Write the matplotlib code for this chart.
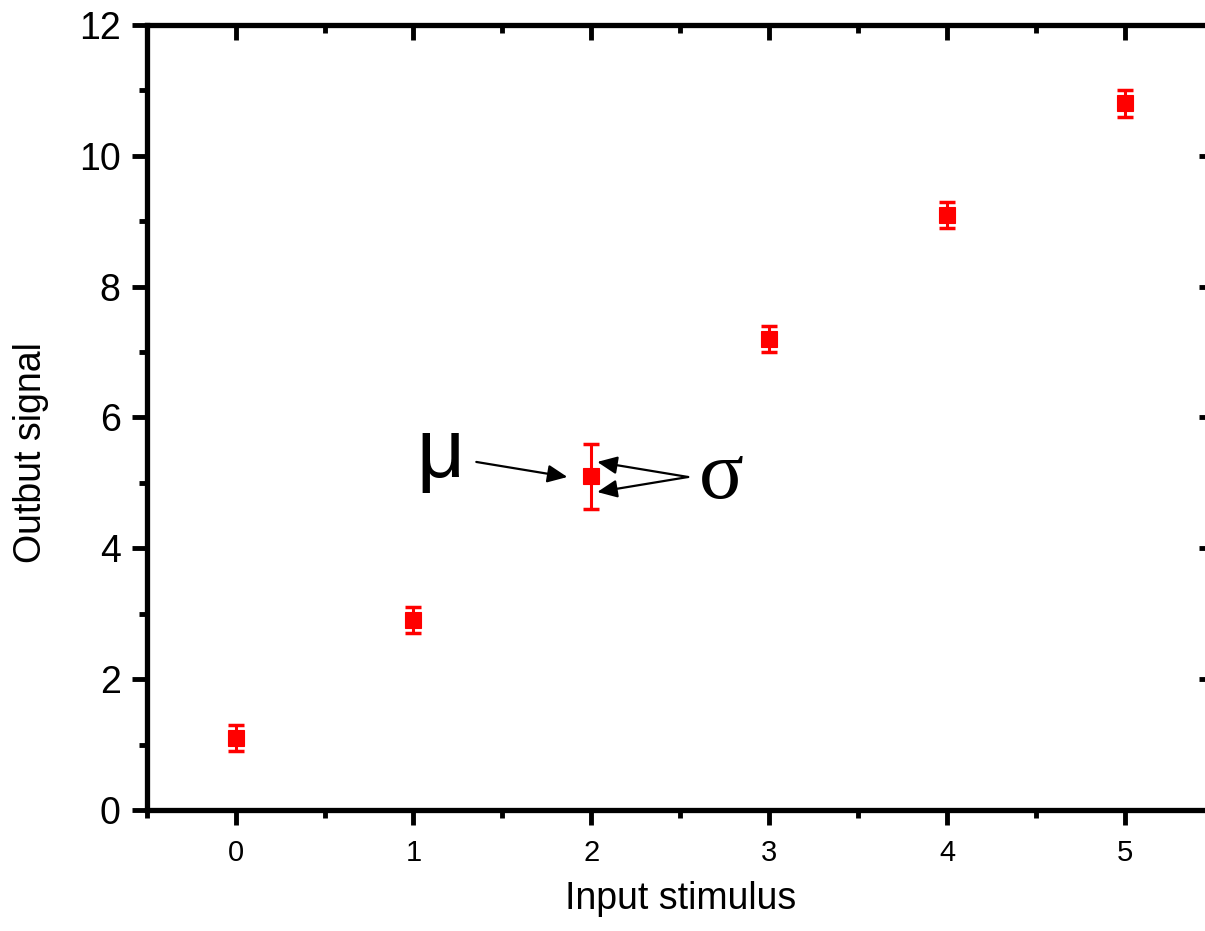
import matplotlib
matplotlib.use("Agg")
import matplotlib.pyplot as plt
from matplotlib.ticker import MultipleLocator

# Data
stimulus = [0, 1, 2, 3, 4, 5]
signal = [1.1, 2.9, 5.1, 7.2, 9.1, 10.8]
sigma = [0.2, 0.2, 0.5, 0.2, 0.2, 0.2]
x_ticks = [0, 1, 2, 3, 4, 5]
y_ticks = [0, 2, 4, 6, 8, 10, 12]

plt.rcParams['font.family'] = ['Liberation Sans', 'DejaVu Sans']

fig = plt.figure(figsize=(12.05, 9.31), dpi=100)
ax = fig.add_axes([0.1217, 0.13, 0.8858, 0.8432])

line, caps, bars = ax.errorbar(stimulus, signal, yerr=sigma, fmt='s', color='#ff0000',
                               markersize=11, elinewidth=2.2, capsize=5.8, capthick=2.5,
                               markeredgewidth=0.8, zorder=3)
for c in caps:
    c.set_markeredgewidth(2.5)
    c.set_markersize(11.6)

ax.set_xlim(-0.5, 5.5)
ax.set_ylim(0, 12)
ax.set_xticks(x_ticks)
ax.set_yticks(y_ticks)
ax.xaxis.set_minor_locator(MultipleLocator(0.5))
ax.yaxis.set_minor_locator(MultipleLocator(1))

for s in ax.spines.values():
    s.set_linewidth(3.8)

ax.tick_params(axis='both', which='major', length=10.8, width=3.5, direction='out')
ax.tick_params(axis='both', which='minor', length=5.8, width=3.5, direction='out')
ax.tick_params(axis='x', which='major', labelsize=21, pad=10)
ax.tick_params(axis='y', which='major', labelsize=27, pad=8)
ax.tick_params(which='both', top=True, right=True)
for t in ax.xaxis.get_major_ticks() + ax.xaxis.get_minor_ticks():
    t.tick2line.set_marker(3)  # tick pointing down from top spine
for t in ax.yaxis.get_major_ticks() + ax.yaxis.get_minor_ticks():
    t.tick2line.set_marker(0)  # tick pointing left from right spine

ax.set_xlabel('Input stimulus', fontsize=27, labelpad=10)
fig.text(0.026, 0.514, 'Outbut signal', rotation=90, fontsize=27,
         ha='center', va='center')

arrow_kw = dict(arrowstyle='-|>,head_length=0.6,head_width=0.27',
                color='black', lw=1.6, mutation_scale=20,
                shrinkA=0, shrinkB=0)
ax.annotate('', xy=(1.865, 5.09), xytext=(1.353, 5.32), arrowprops=arrow_kw)
ax.annotate('', xy=(2.033, 5.32), xytext=(2.544, 5.09), arrowprops=arrow_kw)
ax.annotate('', xy=(2.033, 4.86), xytext=(2.544, 5.09), arrowprops=arrow_kw)

ax.text(1.154, 5.09, 'μ', fontsize=60, ha='center', va='baseline')
ax.text(2.73, 4.77, 'σ', fontsize=60, ha='center', va='baseline',
        family=['Liberation Serif', 'DejaVu Serif'])

fig.savefig('out.png', dpi=100)
